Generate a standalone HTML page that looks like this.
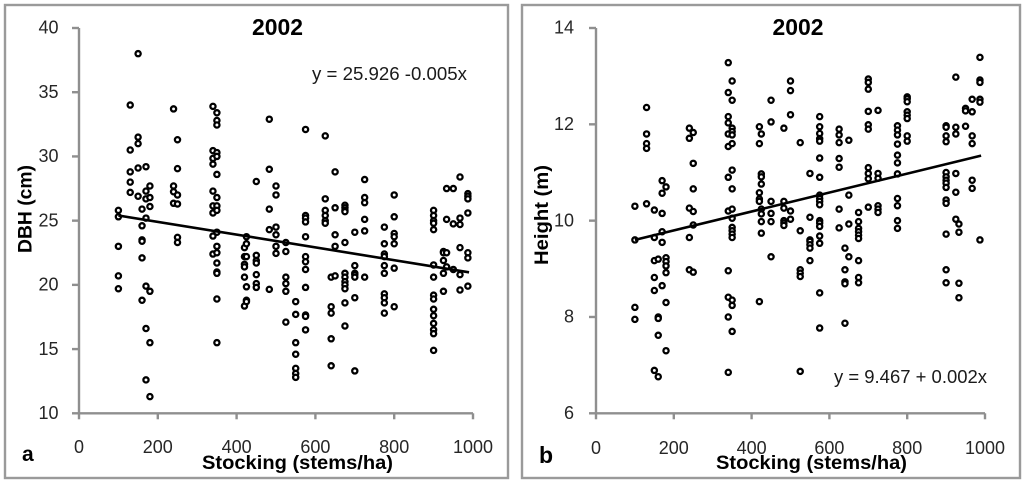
<!DOCTYPE html>
<html lang="en">
<head>
<meta charset="utf-8">
<title>Stocking vs DBH and Height, 2002</title>
<style>
html,body{margin:0;padding:0;background:#fff;width:1024px;height:480px;overflow:hidden}
svg{display:block;filter:blur(0.35px)}
text{font-family:"Liberation Sans",sans-serif;fill:#1a1a1a}
.tick{font-size:18px;fill:#262626}
.bold{font-weight:bold;fill:#000}
</style>
</head>
<body>
<svg id="chart" xmlns="http://www.w3.org/2000/svg" width="1024" height="480" viewBox="0 0 1024 480">
  <rect x="5" y="5" width="503" height="473" fill="#fff" stroke="#9a9a9a" stroke-width="2.4"/>
  <rect x="522" y="5" width="498" height="473" fill="#fff" stroke="#9a9a9a" stroke-width="2.4"/>
  <g id="panelA"></g>
  <g id="panelB"></g>
  <text class="bold" x="277.5" y="35" font-size="23" text-anchor="middle" textLength="51" lengthAdjust="spacingAndGlyphs">2002</text>
  <text class="bold" x="798" y="35" font-size="23" text-anchor="middle" textLength="51" lengthAdjust="spacingAndGlyphs">2002</text>
  <text x="312" y="80" font-size="18" textLength="155" lengthAdjust="spacingAndGlyphs">y = 25.926 -0.005x</text>
  <text x="834" y="383" font-size="18" textLength="153" lengthAdjust="spacingAndGlyphs">y = 9.467 + 0.002x</text>
  <text class="bold" x="202" y="469" font-size="19.5" textLength="191" lengthAdjust="spacingAndGlyphs">Stocking (stems/ha)</text>
  <text class="bold" x="716" y="469" font-size="19.5" textLength="191" lengthAdjust="spacingAndGlyphs">Stocking (stems/ha)</text>
  <text class="bold" transform="translate(31.5 209) rotate(-90)" font-size="19.5" text-anchor="middle" textLength="88" lengthAdjust="spacingAndGlyphs">DBH (cm)</text>
  <text class="bold" transform="translate(548 215) rotate(-90)" font-size="19.5" text-anchor="middle" textLength="100" lengthAdjust="spacingAndGlyphs">Height (m)</text>
  <text class="bold" x="22" y="461" font-size="21">a</text>
  <text class="bold" x="539" y="463" font-size="23">b</text>
</svg>
<script>
// Shared x axis
const stockingTicks = [0, 200, 400, 600, 800, 1000];

// Panel a: DBH (cm)
const dbhTicks = [10, 15, 20, 25, 30, 35, 40];
const dbhStocking = [100, 130, 150, 160, 170, 180, 240, 250, 340, 350, 420, 425, 450, 483, 500, 525, 550, 575, 625, 640, 650, 675, 700, 725, 775, 800, 900, 925, 933, 950, 967, 987];
const dbhValues = [
  [25.8, 25.3, 23, 20.7, 19.7],
  [34, 30.5, 28.8, 28, 27.2],
  [38, 31.5, 31, 29.1, 26.9],
  [25.9, 24.6, 23.5, 23.4, 22.1, 18.8],
  [29.2, 27.3, 26.7, 25.2, 19.9, 16.6, 12.6],
  [27.7, 26.8, 26.1, 19.5, 15.5, 11.3],
  [33.7, 27.7, 27.25, 26.35],
  [31.3, 29.05, 27, 26.3, 23.7, 23.3],
  [33.9, 30.45, 29.85, 29.4, 27.3, 26.15, 25.6, 23.8, 22.4],
  [33.4, 32.8, 32.45, 30.3, 30, 28.6, 26.8, 26.15, 25.8, 24.1, 23, 22.5, 21.7, 21, 20.9, 18.9, 15.5],
  [22.9, 22.2, 21.6, 21.4, 20.6, 18.35],
  [23.75, 23.2, 22.2, 19.85, 18.8, 18.7],
  [28.05, 22.3, 21.9, 21.7, 20.8, 20.1, 19.8],
  [32.9, 29, 25.9, 24.3, 19.65],
  [27.7, 27, 24.5, 23.9, 23, 22.45],
  [23.3, 22.6, 20.6, 20.1, 19.5, 17.1],
  [18.7, 17.7, 15.5, 14.6, 13.5, 13.1, 12.8],
  [32.1, 25.4, 25.2, 24.9, 23.75, 22.2, 21.8, 21.2, 19.8, 17.65, 17.55, 16.5],
  [31.6, 26.7, 25.8, 25.4, 25, 24.8],
  [20.6, 18.3, 17.8, 15.8, 13.7],
  [28.8, 26, 23.9, 23, 20.7],
  [26.2, 26, 25.8, 25.7, 23.3, 20.9, 20.6, 20.25, 20, 19.7, 18.6, 16.8],
  [24.1, 21.5, 20.9, 20.8, 20.6, 19, 13.3],
  [28.2, 26.8, 26.4, 25.1, 24.2, 20.6],
  [24.5, 23.2, 22.4, 22.2, 21.5, 20.9, 19.3, 19, 18.6, 17.8],
  [27, 25.3, 24, 23.75, 23.2, 21.3, 18.3],
  [25.8, 25.4, 25, 24.8, 24.3, 21.55, 20.6, 19.2, 18.9, 18.1, 17.6, 17, 16.5, 16.2, 14.9],
  [22.6, 22.5, 21.9, 20.9, 19.5],
  [27.5, 25.1, 22.5, 21.4],
  [27.5, 24.75, 21.2],
  [28.4, 25.2, 24.7, 22.9, 20.8, 19.6],
  [27.1, 26.9, 26.7, 25.6, 22.5, 22.1, 19.9]
];
const dbhTrendX = [100, 990];
const dbhTrendY = [25.4, 20.98];

// Panel b: Height (m)
const heightTicks = [6, 8, 10, 12, 14];
const heightStocking = [100, 130, 150, 160, 170, 180, 240, 250, 340, 350, 420, 425, 450, 483, 500, 525, 550, 575, 625, 640, 650, 675, 700, 725, 775, 800, 900, 925, 933, 950, 967, 987];
const heightValues = [
  [10.3, 9.6, 8.2, 7.95],
  [12.35, 11.8, 11.6, 11.5, 10.35],
  [10.22, 9.65, 9.17, 8.82, 8.55, 6.89],
  [9.2, 8, 7.97, 7.62, 6.76],
  [10.83, 10.57, 10.15, 9.77, 9.55, 8.65],
  [10.7, 9.23, 9.15, 9.06, 8.92, 8.3, 7.3],
  [11.92, 11.71, 10.26, 9.65, 8.98],
  [11.83, 11.19, 10.66, 10.19, 9.91, 8.93],
  [13.28, 12.66, 12.16, 12.03, 11.8, 11.54, 10.9, 10.2, 8.96, 8.41, 8, 6.85],
  [12.9, 12.5, 11.92, 11.85, 11.78, 11.6, 11.05, 10.66, 10.24, 10.05, 9.86, 9.79, 9.72, 9.65, 8.35, 8.24, 7.7],
  [11.95, 11.6, 10.58, 10.45, 10.4, 8.32],
  [11.8, 10.97, 10.91, 10.76, 10.24, 10.14, 9.98, 9.74],
  [12.5, 12.05, 10.4, 10.15, 9.98, 9.25],
  [11.92, 10.4, 10.26, 10, 9.95, 9.9],
  [12.9, 12.7, 12.2, 10.2, 10.03],
  [11.62, 9.79, 8.98, 8.91, 8.84, 6.87],
  [10.98, 10.07, 9.6, 9.57, 9.5, 9.43, 9.17],
  [12.16, 11.95, 11.81, 11.7, 11.65, 11.3, 10.9, 10.53, 10.46, 10.4, 10.33, 10, 9.95, 9.88, 9.68, 9.53, 8.5, 7.77],
  [11.9, 11.78, 11.62, 11.29, 11.11, 10.24, 9.85],
  [9.43, 8.98, 8.73, 8.69, 7.87],
  [11.67, 10.53, 9.93, 9.25],
  [10.17, 9.98, 9.84, 9.77, 9.7, 9.63, 9.17, 8.82, 8.71],
  [12.94, 12.87, 12.73, 12.27, 11.99, 11.9, 11.1, 10.98, 10.87, 10.28],
  [12.29, 10.98, 10.88, 10.31, 10.24, 10.17],
  [11.97, 11.88, 11.78, 11.59, 11.36, 11.2, 10.97, 10.46, 10.31, 10, 9.84],
  [12.57, 12.53, 12.47, 12.26, 12.19, 12.12, 11.76, 11.65],
  [11.97, 11.94, 11.76, 11.64, 11, 10.91, 10.84, 10.78, 10.69, 10.43, 10.36, 9.72, 8.98, 8.71],
  [12.98, 11.94, 11.8, 10.98, 10.59, 10.03],
  [9.93, 9.76, 8.7, 8.4],
  [12.33, 12.28, 11.96],
  [12.52, 12.26, 11.76, 11.6, 10.84, 10.67],
  [13.39, 12.92, 12.87, 12.52, 12.46, 9.6]
];
const heightTrendX = [100, 990];
const heightTrendY = [9.6, 11.35];

const NS = 'http://www.w3.org/2000/svg';

function make(parent, tag, attrs, label) {
  const el = document.createElementNS(NS, tag);
  for (const k in attrs) el.setAttribute(k, attrs[k]);
  if (label !== undefined) el.textContent = label;
  parent.appendChild(el);
  return el;
}

function drawPanel(parent, opt) {
  const sx = v => opt.x0 + (v - opt.xMin) / (opt.xMax - opt.xMin) * (opt.x1 - opt.x0);
  const sy = v => opt.y0 + (v - opt.yMin) / (opt.yMax - opt.yMin) * (opt.y1 - opt.y0);
  const axisStyle = { stroke: '#8f8f8f', 'stroke-width': 2.4, fill: 'none' };

  const yAxis = make(parent, 'line', Object.assign({ x1: opt.x0, x2: opt.x0, y1: sy(opt.yMin), y2: sy(opt.yMax) }, axisStyle));
  
  
  const xAxis = make(parent, 'line', Object.assign({ x1: sx(opt.xMin), x2: sx(opt.xMax), y1: sy(opt.yMin), y2: sy(opt.yMin) }, axisStyle));
  
  

  opt.yTicks.forEach(t => {
    const mark = make(parent, 'line', Object.assign({ x1: opt.x0 - 7, x2: opt.x0, y1: sy(t), y2: sy(t) }, axisStyle));
    
    
    const label = make(parent, 'text', { class: 'tick', x: opt.yLabelX, y: sy(t) + 5.7, 'text-anchor': 'end' }, String(t));
    
    
  });

  opt.xTicks.forEach(t => {
    const mark = make(parent, 'line', Object.assign({ x1: sx(t), x2: sx(t), y1: sy(opt.yMin), y2: sy(opt.yMin) + 6 }, axisStyle));
    
    
    const label = make(parent, 'text', { class: 'tick', x: sx(t), y: opt.xLabelY, 'text-anchor': 'middle' }, String(t));
    
    
  });

  opt.columns.forEach((xVal, i) => {
    opt.values[i].forEach(v => {
      const point = make(parent, 'circle', { cx: sx(xVal), cy: sy(v), r: 2.6, fill: '#fff', stroke: '#000', 'stroke-width': 2.3 });
      
      
    });
  });

  const trend = make(parent, 'line', {
    x1: sx(opt.trendX[0]), y1: sy(opt.trendY[0]),
    x2: sx(opt.trendX[1]), y2: sy(opt.trendY[1]),
    stroke: '#000', 'stroke-width': 2.6
  });
  
  
}

drawPanel(document.getElementById('panelA'), {
  x0: 79, x1: 473, y0: 413.3, y1: 28,
  xMin: 0, xMax: 1000, yMin: 10, yMax: 40,
  xTicks: stockingTicks, yTicks: dbhTicks,
  yLabelX: 58.5, xLabelY: 453,
  columns: dbhStocking, values: dbhValues,
  trendX: dbhTrendX, trendY: dbhTrendY
});

drawPanel(document.getElementById('panelB'), {
  x0: 596, x1: 985, y0: 413.3, y1: 28,
  xMin: 0, xMax: 1000, yMin: 6, yMax: 14,
  xTicks: stockingTicks, yTicks: heightTicks,
  yLabelX: 574, xLabelY: 454,
  columns: heightStocking, values: heightValues,
  trendX: heightTrendX, trendY: heightTrendY
});
</script>
</body>
</html>
